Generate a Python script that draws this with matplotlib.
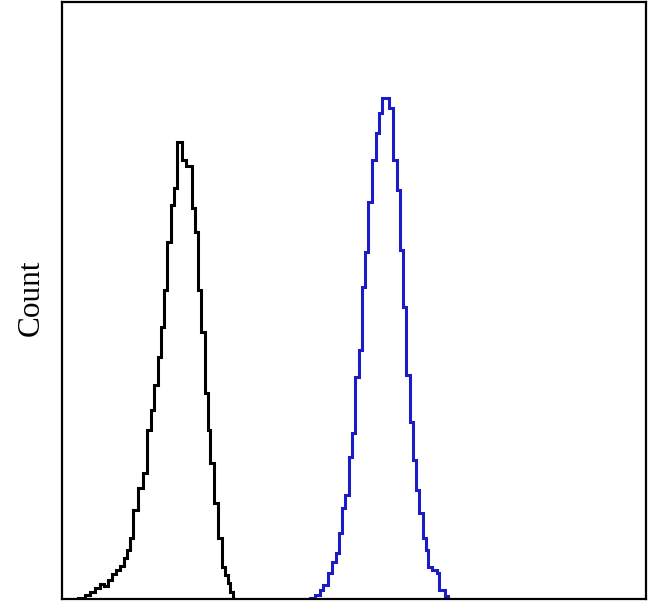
import matplotlib
matplotlib.use("Agg")
import matplotlib.pyplot as plt

# Control (black) histogram: bin edges (channel) and counts
black_edges = [16, 23, 28, 33, 38, 42, 46, 50, 54, 58, 62, 65, 68, 71, 76, 81, 85, 89, 92, 96,
               99, 102, 105, 109, 112, 115, 120, 124, 130, 133, 136, 139, 143, 146, 148, 152,
               156, 160, 163, 166, 168, 171]
black_counts = [1, 4, 7, 11, 15, 13, 19, 25, 29, 33, 41, 49, 61, 89, 111, 126, 169, 189, 214, 242,
                272, 309, 357, 394, 411, 457, 439, 433, 391, 367, 309, 267, 206, 169, 136, 96,
                61, 32, 24, 16, 7]

# Stained (blue) histogram
blue_edges = [248, 253, 258, 261, 266, 270, 274, 277, 280, 283, 287, 290, 293, 297, 300, 303,
              306, 310, 314, 317, 320, 327, 331, 335, 338, 341, 344, 348, 351, 354, 357, 361,
              364, 366, 370, 375, 377, 383, 386]
blue_counts = [1, 4, 9, 14, 26, 37, 46, 66, 91, 104, 142, 166, 222, 249, 312, 347, 397, 439,
               466, 486, 501, 491, 439, 409, 349, 292, 224, 177, 139, 109, 86, 61, 49, 32, 29,
               26, 9, 3]

fig = plt.figure(figsize=(6.49, 6.01), dpi=100)
ax = fig.add_axes([62 / 649, 2 / 601, 584 / 649, 597 / 601])

ax.stairs(black_counts, black_edges, color="black", linewidth=2.2, baseline=0)
ax.stairs(blue_counts, blue_edges, color="#1c1cc4", linewidth=2.2, baseline=0)

ax.set_xlim(0, 584)
ax.set_ylim(0, 597)
ax.set_xticks([])
ax.set_yticks([])
for s in ax.spines.values():
    s.set_linewidth(1.6)
    s.set_color("black")

ax.set_ylabel("Count", family="Liberation Serif", fontsize=22.5)
ax.yaxis.set_label_coords(-0.028, 0.505)

fig.savefig("out.png", dpi=100)
